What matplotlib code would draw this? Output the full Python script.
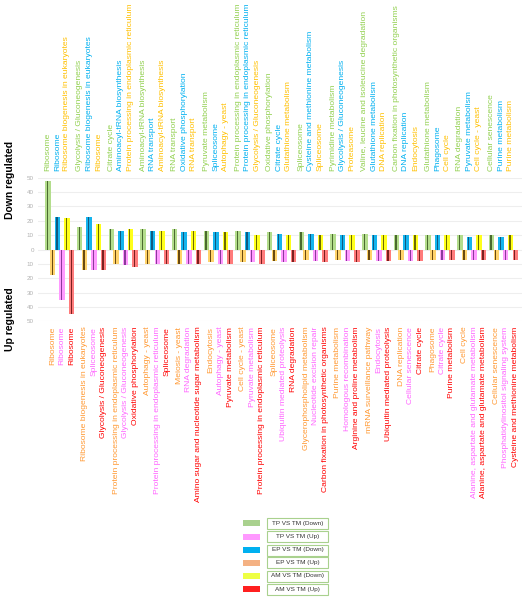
import numpy as np
import matplotlib
matplotlib.use('Agg')
import matplotlib.pyplot as plt
from matplotlib.patches import Rectangle
from matplotlib.transforms import blended_transform_factory

plt.rcParams['font.family'] = ['Liberation Sans', 'DejaVu Sans']

# ---- data: 15 groups, three comparisons per direction ----
# down regulated (top): TP vs TM, EP vs TM, AM vs TM
down_tp_names = ["Ribosome", "Glycolysis / Gluconeogenesis", "Citrate cycle",
                 "Aminoacyl-tRNA biosynthesis", "RNA transport", "Pyruvate metabolism",
                 "Protein processing in endoplasmic reticulum", "Oxidative phosphorylation",
                 "Spliceosome", "Pyrimidine metabolism",
                 "Valine, leucine and isoleucine degradation",
                 "Carbon fixation in photosynthetic organisms", "Glutathione metabolism",
                 "RNA degradation", "Cellular senescence"]
down_ep_names = ["Ribosome", "Ribosome biogenesis in eukaryotes", "Aminoacyl-tRNA biosynthesis",
                 "RNA transport", "Oxidative phosphorylation", "Spliceosome",
                 "Protein processing in endoplasmic reticulum", "Citrate cycle",
                 "Cysteine and methionine metabolism", "Glycolysis / Gluconeogenesis",
                 "Glutathione metabolism", "DNA replication", "Phagosome",
                 "Pyruvate metabolism", "Purine metabolism"]
down_am_names = ["Ribosome biogenesis in eukaryotes", "Ribosome",
                 "Protein processing in endoplasmic reticulum", "Aminoacyl-tRNA biosynthesis",
                 "RNA transport", "Autophagy - yeast", "Glycolysis / Gluconeogenesis",
                 "Glutathione metabolism", "Spliceosome", "Proteasome", "DNA replication",
                 "Endocytosis", "Cell cycle", "Cell cycle - yeast", "Purine metabolism"]
down_tp = [48, 16, 14, 14, 14, 13, 13, 12, 12, 11, 11, 10, 10, 10, 10]
down_ep = [23, 23, 13, 13, 12, 12, 12, 11, 11, 10, 10, 10, 10, 9, 9]
down_am = [22, 18, 14, 13, 13, 12, 10, 10, 10, 10, 10, 10, 10, 10, 10]

# up regulated (bottom): EP vs TM, TP vs TM, AM vs TM
up_ep_names = ["Ribosome", "Ribosome biogenesis in eukaryotes",
               "Protein processing in endoplasmic reticulum", "Autophagy - yeast",
               "Meiosis - yeast", "Endocytosis", "Cell cycle - yeast", "Spliceosome",
               "Glycerophospholipid metabolism", "Purine metabolism",
               "mRNA surveillance pathway", "DNA replication", "Phagosome", "Cell cycle",
               "Cellular senescence"]
up_tp_names = ["Ribosome", "Spliceosome", "Glycolysis / Gluconeogenesis",
               "Protein processing in endoplasmic reticulum", "RNA degradation",
               "Autophagy - yeast", "Pyruvate metabolism", "Ubiquitin mediated proteolysis",
               "Nucleotide excision repair", "Homologous recombination", "Endocytosis",
               "Cellular senescence", "Citrate cycle",
               "Alanine, aspartate and glutamate metabolism",
               "Phosphatidylinositol signaling system"]
up_am_names = ["Ribosome", "Glycolysis / Gluconeogenesis", "Oxidative phosphorylation",
               "Spliceosome", "Amino sugar and nucleotide sugar metabolism",
               "Pyruvate metabolism", "Protein processing in endoplasmic reticulum",
               "RNA degradation", "Carbon fixation in photosynthetic organisms",
               "Arginine and proline metabolism", "Ubiquitin mediated proteolysis",
               "Citrate cycle", "Purine metabolism",
               "Alanine, aspartate and glutamate metabolism",
               "Cysteine and methionine metabolism"]
up_ep = [18, 14, 10, 10, 10, 9, 9, 8, 7, 7, 7, 7, 7, 7, 7]
up_tp = [35, 14, 11, 10, 10, 10, 9, 9, 8, 8, 8, 8, 7, 7, 7]
up_am = [45, 14, 12, 10, 10, 10, 10, 9, 9, 9, 8, 8, 7, 7, 7]

legend_names = ["TP VS TM (Down)", "TP VS TM (Up)", "EP VS TM (Down)",
                "EP VS TM (Up)", "AM VS TM (Down)", "AM VS TM (Up)"]
legend_colors = ["#a9d18e", "#ff99ff", "#00b0f0", "#f4b183", "#eeff44", "#ff2020"]

# ---- layout ----
fig = plt.figure(figsize=(5.26, 6.0), dpi=100)
ax = fig.add_axes([38 / 526, 1 - 321.2 / 600, 484 / 526, 143.4 / 600])

n = len(down_tp)
g = np.arange(n) * 6.67

# (values, names, offset, outer colour, inner colour, label colour, sign)
series = [
    (down_tp, down_tp_names, 0, "#b3dd8c", "#4a6a2e", "#92d050", 1),
    (down_ep, down_ep_names, 2, "#14b4ee", "#105a80", "#00b0f0", 1),
    (down_am, down_am_names, 4, "#ffff1a", "#6e6a00", "#ffc000", 1),
    (up_ep, up_ep_names, 1, "#ffd36b", "#6a4a10", "#ff9933", -1),
    (up_tp, up_tp_names, 3, "#ff99ff", "#8a3a9a", "#ff66ff", -1),
    (up_am, up_am_names, 5, "#ff7b7b", "#7a2020", "#ff0000", -1),
]

trans = blended_transform_factory(ax.transData, ax.transAxes)
for vals, names, off, outer, inner, tcol, sign in series:
    x = g + off
    v = sign * np.array(vals)
    ax.bar(x, v, width=1.15, color=outer, zorder=2)
    ax.bar(x - 0.1, v, width=0.26, color=inner, zorder=3)
    for xi, name in zip(x, names):
        if sign > 0:
            ax.text(xi, 1.049, name, rotation=90, ha='center', va='bottom',
                    fontsize=6.1, color=tcol, transform=trans)
        else:
            ax.text(xi, -0.038, name, rotation=90, ha='center', va='top',
                    fontsize=6.1, color=tcol, transform=trans)

ax.set_xlim(-2.1, 99.8)
ax.set_ylim(-50, 50)
ax.set_yticks(np.arange(-50, 51, 10))
ax.set_yticklabels([str(abs(t)) for t in range(-50, 51, 10)])
ax.tick_params(axis='y', length=0, labelsize=4.5, labelcolor='#b0b0b0', pad=3)
ax.set_xticks([])
ax.grid(axis='y', color='#eeeeee', linewidth=0.8, zorder=0)
for s in ax.spines.values():
    s.set_visible(False)
ax.axhline(0, color='#dddddd', linewidth=0.6, zorder=1)

fig.text(10 / 526, 1 - 180 / 600, "Down regulated", rotation=90, ha='center', va='center',
         fontsize=7.5, fontweight='bold')
fig.text(10 / 526, 1 - 319 / 600, "Up regulated", rotation=90, ha='center', va='center',
         fontsize=7.5, fontweight='bold')

# ---- legend drawn as swatches + boxed labels ----
row_y = [523.3, 536.7, 550, 562.7, 576, 589]
for yy, name, col in zip(row_y, legend_names, legend_colors):
    fy = 1 - yy / 600
    fig.patches.append(Rectangle((243 / 526, fy - 3 / 600), 17 / 526, 6 / 600,
                                 transform=fig.transFigure, facecolor=col,
                                 edgecolor='none'))
    fig.patches.append(Rectangle((267 / 526, fy - 5.5 / 600), 61 / 526, 11 / 600,
                                 transform=fig.transFigure, facecolor='white',
                                 edgecolor='#a9d18e', linewidth=0.8))
    fig.text(297.5 / 526, fy, name, ha='center', va='center', fontsize=4.6,
             color='#333333')

plt.savefig('out.png', dpi=100)
